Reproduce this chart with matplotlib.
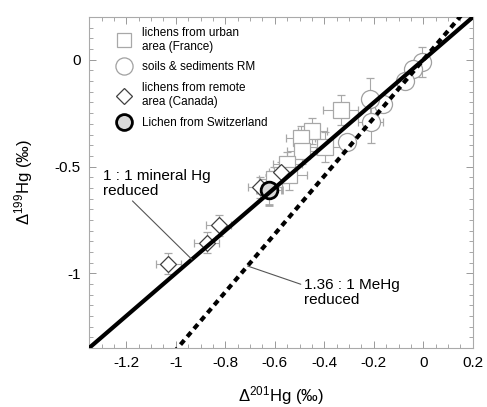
import matplotlib.pyplot as plt
import numpy as np
from matplotlib.lines import Line2D
from matplotlib.ticker import MultipleLocator, FormatStrFormatter

plt.rcParams["font.family"] = "Liberation Sans"
plt.rcParams["mathtext.fontset"] = "custom"
plt.rcParams["mathtext.rm"] = "Liberation Sans"
plt.rcParams["mathtext.it"] = "Liberation Sans"

# lichens from urban area (France)
urban_x = [-0.334, -0.448, -0.496, -0.399, -0.492, -0.549, -0.541, -0.602]
urban_y = [-0.236, -0.335, -0.368, -0.410, -0.429, -0.490, -0.541, -0.560]
urban_xerr = [0.07, 0.06, 0.06, 0.07, 0.06, 0.06, 0.07, 0.06]
urban_yerr = [0.07, 0.06, 0.06, 0.07, 0.06, 0.06, 0.07, 0.06]

# soils & sediments RM
soil_x = [-0.004, -0.040, -0.073, -0.163, -0.216, -0.212, -0.310]
soil_y = [-0.010, -0.045, -0.100, -0.208, -0.185, -0.290, -0.386]
soil_xerr = [0.02, 0.02, 0.02, 0.02, 0.03, 0.05, 0.02]
soil_yerr = [0.07, 0.02, 0.02, 0.02, 0.10, 0.10, 0.02]

# lichens from remote area (Canada)
remote_x = [-0.574, -0.659, -0.826, -0.875, -1.030]
remote_y = [-0.527, -0.598, -0.776, -0.856, -0.955]
remote_xerr = [0.05, 0.05, 0.05, 0.05, 0.05]
remote_yerr = [0.05, 0.05, 0.05, 0.05, 0.05]

# lichen from Switzerland
swiss_x = [-0.622]
swiss_y = [-0.611]
swiss_xerr = [0.05]
swiss_yerr = [0.07]

mehg_slope = 1.36

fig = plt.figure(figsize=(4.87, 4.07), dpi=100)
ax = fig.add_axes([0.183, 0.145, 0.788, 0.813])

lims = np.array([-1.35, 0.2])
ax.plot(lims, lims, color='black', lw=3, zorder=3, solid_capstyle='butt')
ax.plot(lims, mehg_slope * lims, color='black', lw=3, ls=(0, (1.4, 1.1)), zorder=3)

ebar = dict(ecolor='#a8a8a8', elinewidth=0.8, capsize=3, capthick=0.8, ls='none', zorder=2)
urban_style = dict(marker='s', ms=11, mfc='white', mec='#a8a8a8', mew=0.9)
soil_style = dict(marker='o', ms=13, mfc='white', mec='#a0a0a0', mew=0.9)
remote_style = dict(marker='D', ms=8.5, mfc='white', mec='#404040', mew=0.9)
swiss_style = dict(marker='o', ms=12, mfc='#d8d8d8', mec='black', mew=2)

ax.errorbar(urban_x, urban_y, xerr=urban_xerr, yerr=urban_yerr, **urban_style, **ebar)
ax.errorbar(soil_x, soil_y, xerr=soil_xerr, yerr=soil_yerr, **soil_style, **ebar)
ax.errorbar(remote_x, remote_y, xerr=remote_xerr, yerr=remote_yerr, **remote_style, **ebar)
ax.errorbar(swiss_x, swiss_y, xerr=swiss_xerr, yerr=swiss_yerr, **swiss_style, **ebar)

ax.set_xlim(lims)
ax.set_ylim(lims)

ax.annotate('1 : 1 mineral Hg\nreduced', xy=(-0.935, -0.935), xytext=(-1.295, -0.58),
            fontsize=11, ha='left', va='center', linespacing=1.1,
            arrowprops=dict(arrowstyle='-', color='#555555', lw=0.8, shrinkA=0, shrinkB=0,
                            relpos=(0.25, 0)))
ax.annotate('1.36 : 1 MeHg\nreduced', xy=(-0.71, -0.966), xytext=(-0.484, -1.09),
            fontsize=11, ha='left', va='center', linespacing=1.1,
            arrowprops=dict(arrowstyle='-', color='#555555', lw=0.8, shrinkA=0, shrinkB=0,
                            relpos=(0, 0.75)))

ax.xaxis.set_major_locator(MultipleLocator(0.2))
ax.xaxis.set_minor_locator(MultipleLocator(0.05))
ax.yaxis.set_major_locator(MultipleLocator(0.5))
ax.yaxis.set_minor_locator(MultipleLocator(0.05))
ax.xaxis.set_major_formatter(FormatStrFormatter('%g'))
ax.yaxis.set_major_formatter(FormatStrFormatter('%g'))
ax.tick_params(which='both', direction='in', top=True, right=True, color='#999999',
               labelsize=11, pad=6)
ax.tick_params(which='major', length=5, width=0.7)
ax.tick_params(which='minor', length=3, width=0.6)
for s in ax.spines.values():
    s.set_color('#aaaaaa')
    s.set_linewidth(0.8)

ax.set_xlabel(r'$\Delta^{201}$Hg (‰)', fontsize=12, labelpad=10)
ax.set_ylabel(r'$\Delta^{199}$Hg (‰)', fontsize=12, labelpad=14)

handles = [Line2D([], [], ls='none', **urban_style),
           Line2D([], [], ls='none', **soil_style),
           Line2D([], [], ls='none', **remote_style),
           Line2D([], [], ls='none', **swiss_style)]
labels = ['lichens from urban\narea (France)', 'soils & sediments RM',
          'lichens from remote\narea (Canada)', 'Lichen from Switzerland']
ax.legend(handles, labels, loc='upper left', bbox_to_anchor=(0.06, 0.985), frameon=False,
          fontsize=8.5, handletextpad=0.9, labelspacing=0.75, borderaxespad=0,
          markerscale=0.95, handlelength=1.2)

fig.savefig('out.png', dpi=100)
